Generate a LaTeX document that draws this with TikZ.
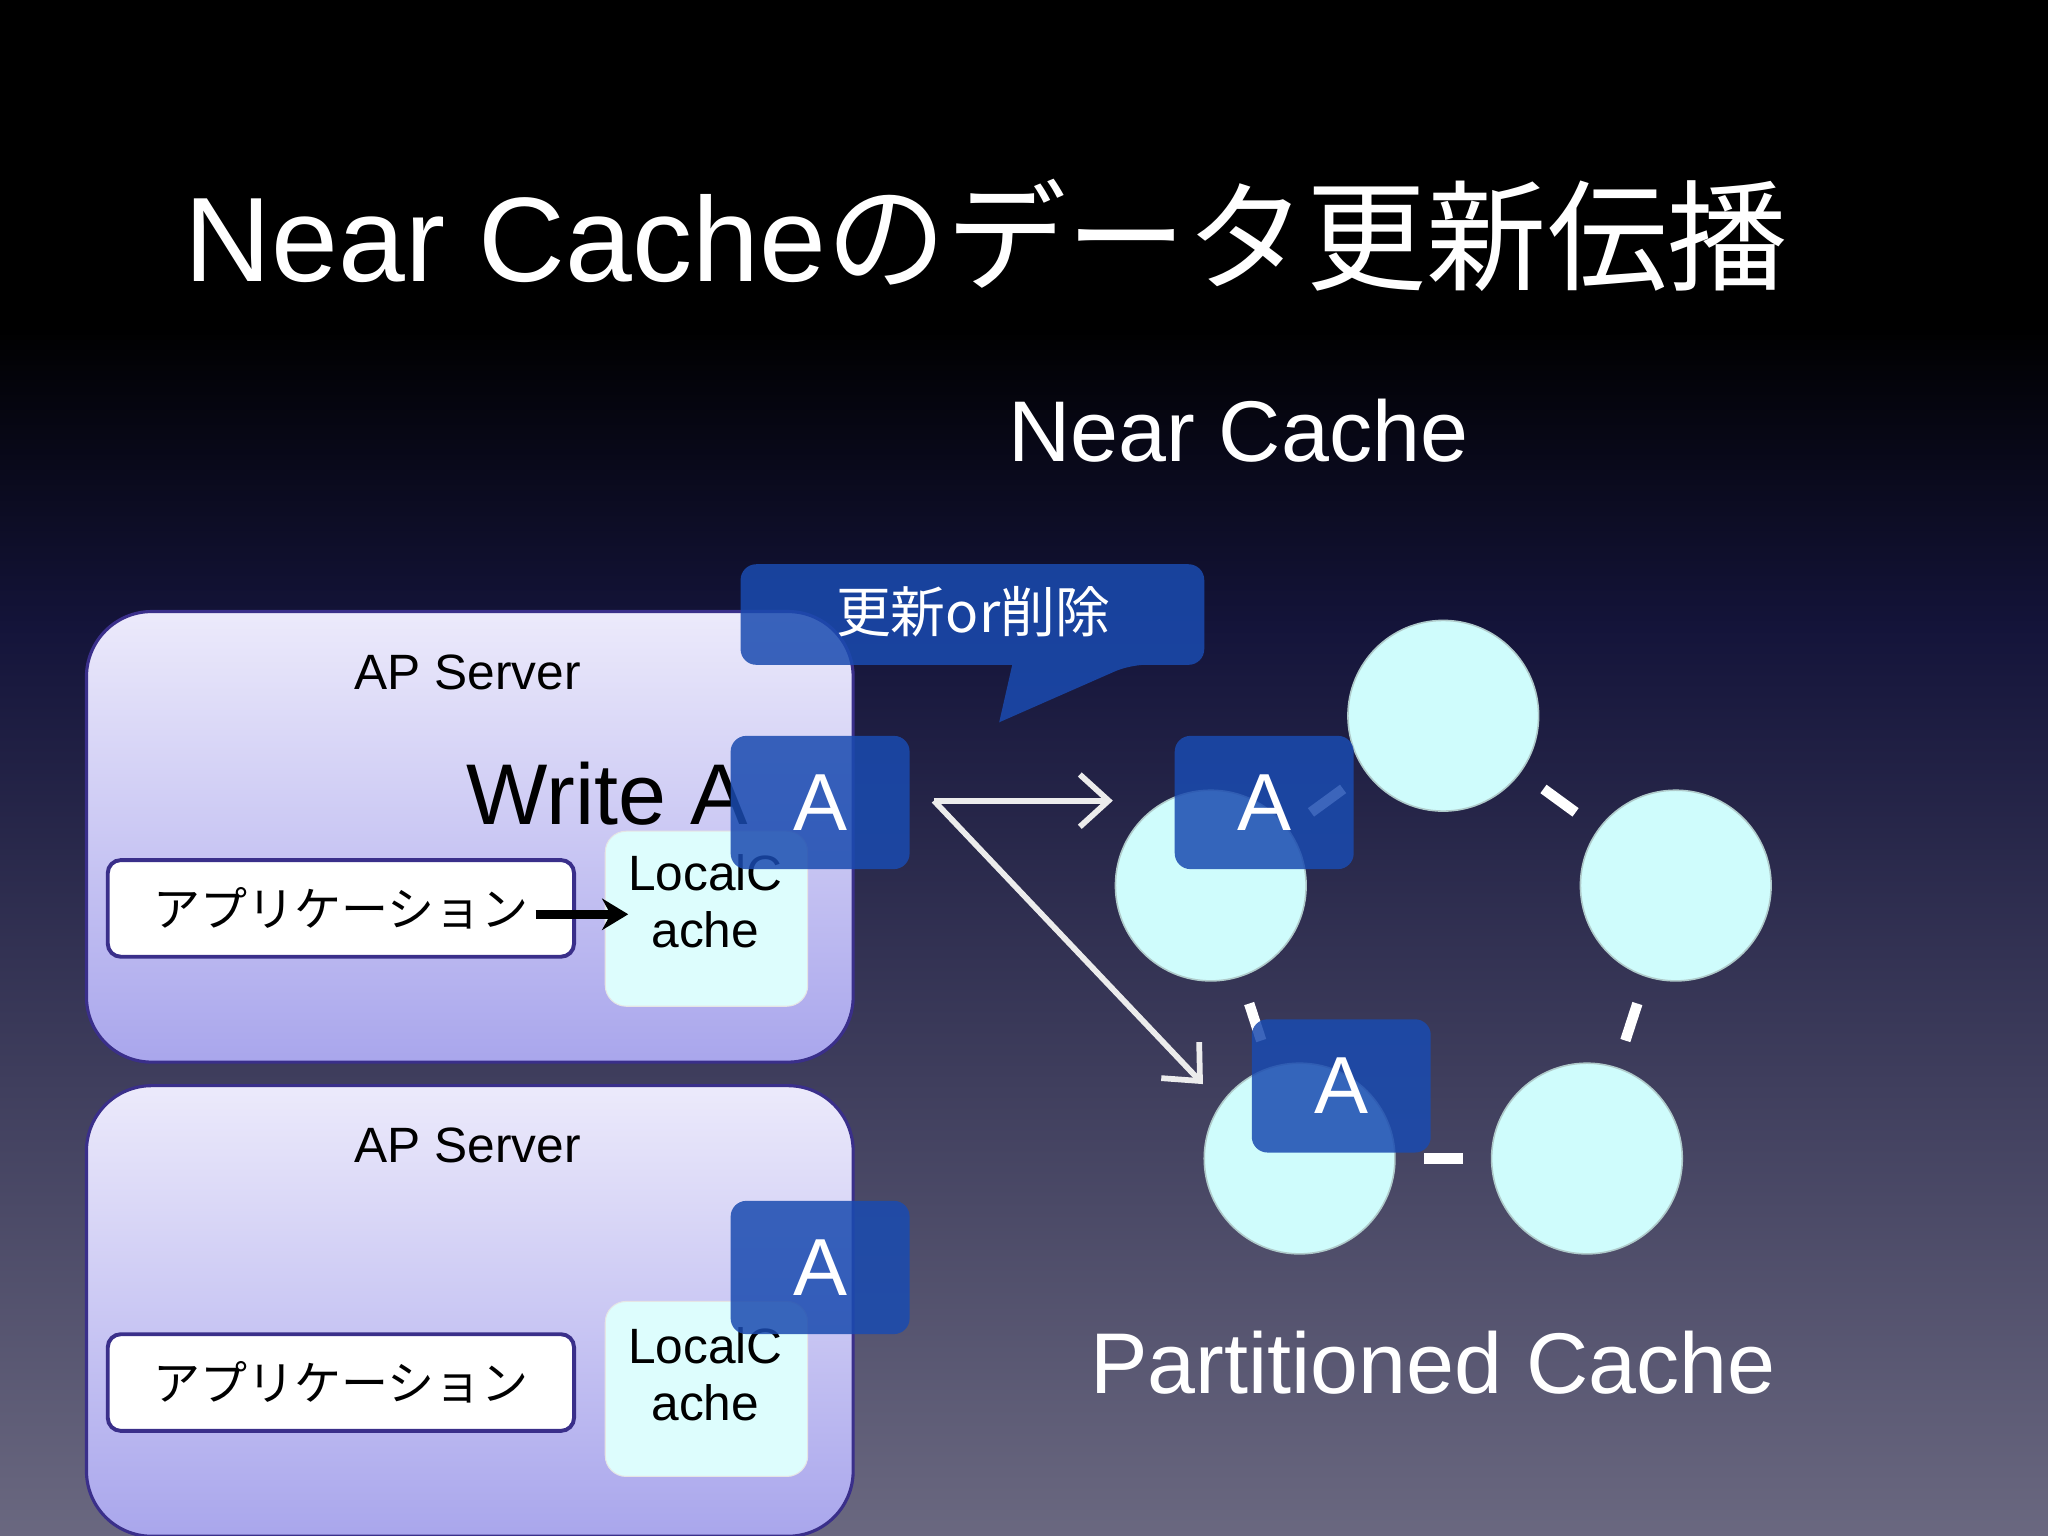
\documentclass[tikz,border=0pt]{standalone}
\usepackage{fontspec}
\setmainfont{Liberation Sans}
\newfontfamily\cjk{Noto Sans CJK JP}
\usetikzlibrary{arrows.meta}
\definecolor{srvtop}{HTML}{ECEAFB}
\definecolor{srvbot}{HTML}{A9A6EC}
\definecolor{srvedge}{HTML}{3A2F8A}
\definecolor{lcfill}{HTML}{DDFDFD}
\definecolor{ablue}{HTML}{1A4BB0}
\definecolor{circ}{HTML}{CFFCFC}
\definecolor{bgmid}{HTML}{14143A}
\definecolor{bgbot}{HTML}{6A6880}
\begin{document}
\begin{tikzpicture}[x=0.5pt,y=-0.5pt,
  server/.style={draw=srvedge,line width=1.2pt,rounded corners=25pt,top color=srvtop,bottom color=srvbot,minimum width=293.5pt,minimum height=172.5pt,anchor=north west},
  app/.style={draw=srvedge,line width=1.5pt,fill=white,rounded corners=5pt,minimum width=178.5pt,minimum height=37pt,anchor=north west,font=\cjk\fontsize{18}{20}\selectfont},
  lc/.style={draw=white!80!gray,fill=lcfill,rounded corners=8pt,minimum width=77.5pt,minimum height=67pt,anchor=north west},
  lct/.style={align=center,font=\fontsize{19}{22}\selectfont},
  abox/.style={fill=ablue,fill opacity=0.85,text opacity=1,text=white,rounded corners=6pt,minimum width=68.5pt,minimum height=51pt,anchor=north west,font=\fontsize{31}{34}\selectfont},
  cache/.style={circle,fill=circ,draw=circ!60!gray,line width=0.6pt,minimum size=73pt,inner sep=0pt},
  ring/.style={white,line width=4pt,shorten >=47.5pt,shorten <=47.5pt},
  prop/.style={draw=white!85!gray,line width=2.2pt,-{Straight Barb[length=11pt,width=20pt,line width=2.2pt]}}
]
\fill[black] (0,0) rectangle (1568,251);
\shade[top color=black,bottom color=bgmid] (0,250) rectangle (1568,481);
\shade[top color=bgmid,bottom color=bgbot] (0,480) rectangle (1568,1176);
\useasboundingbox (0,0) rectangle (1568,1176);

\node[text=white,font=\fontsize{46}{50}\selectfont] (title) at (755,180) {Near Cache{\cjk のデータ更新伝播}};
\node[text=white,font=\fontsize{33}{38}\selectfont] (nc) at (948,330) {Near Cache};
\node[text=white,font=\fontsize{33}{38}\selectfont] (pc) at (1097,1043) {Partitioned Cache};

\node[server] (s1) at (65,467) {};
\node[server] (s2) at (65,830) {};
\node[font=\fontsize{19}{22}\selectfont] (s1l) at (358,515) {AP Server};
\node[font=\fontsize{19}{22}\selectfont] (s2l) at (358,877) {AP Server};
\node[app] (app1) at (81,657) {アプリケーション};
\node[app] (app2) at (81,1020) {アプリケーション};
\node[lc] (lc1) at (463,636) {};
\node[lc] (lc2) at (463,996) {};
\node[lct] (lc1t) at (540,690) {LocalC\\ache};
\node[lct] (lc2t) at (540,1052) {LocalC\\ache};
\node[font=\fontsize{33}{36}\selectfont] (w) at (465,608) {Write A};
\coordinate (lcin) at (481,700);
\draw[line width=3.5pt,-{Stealth[length=10pt,width=12pt]}] (410,700) -- (lcin);

\node[cache] (c1) at (1105,548) {};
\node[cache] (c2) at (1283,678) {};
\node[cache] (c3) at (927,678) {};
\node[cache] (c4) at (995,887) {};
\node[cache] (c5) at (1215,887) {};
\draw[ring] (c1.center) -- (c2.center);
\draw[ring] (c2.center) -- (c5.center);
\draw[ring] (c5.center) -- (c4.center);
\draw[ring] (c4.center) -- (c3.center);
\draw[ring] (c3.center) -- (c1.center);

\node[abox] (a1) at (559,563) {A};
\node[abox] (a2) at (559,919) {A};
\node[abox] (a3) at (899,563) {A};
\node[abox] (a4) at (958,780) {A};

\fill[ablue,opacity=0.85,rounded corners=6pt] (567,432) -- (922,432) -- (922,509) -- (865,509) [sharp corners] -- (765,553) -- (775,509) [rounded corners=6pt] -- (567,509) -- cycle;
\node[text=white,font=\cjk\fontsize{21}{24}\selectfont] (upd) at (745,468) {更新or削除};

\coordinate (src) at (715,613);
\coordinate (t1) at (852,613);
\coordinate (t2) at (921,830);
\draw[prop] (src) -- (t1);
\draw[prop] (src) -- (t2);
\end{tikzpicture}
\end{document}
